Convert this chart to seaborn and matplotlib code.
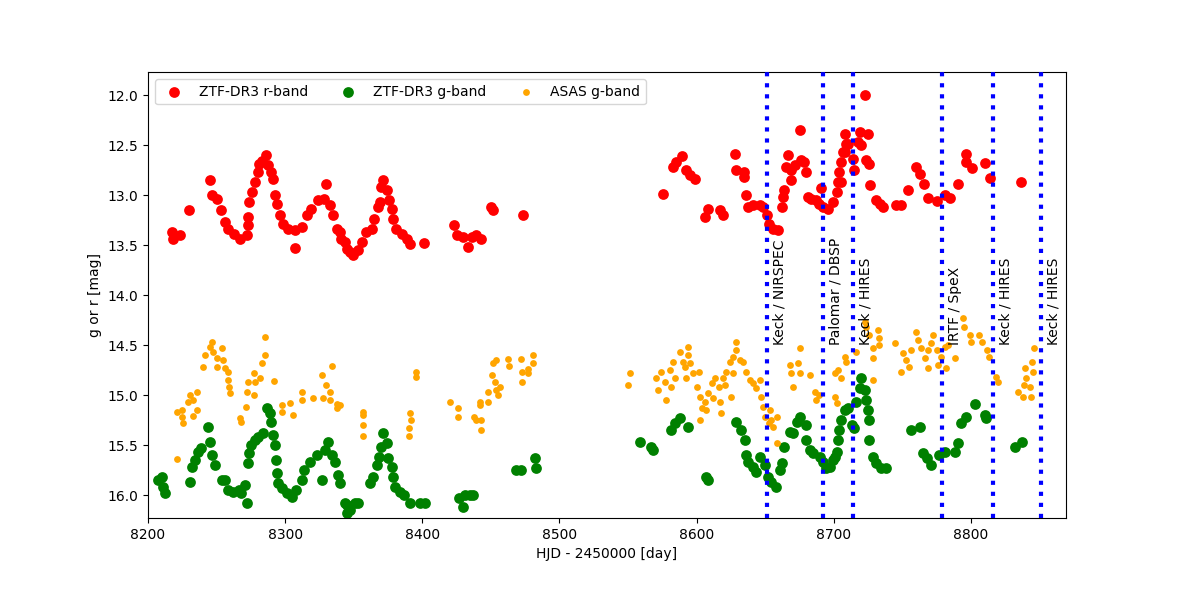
import numpy as np
import pandas as pd
import matplotlib
matplotlib.use('Agg')
import matplotlib.pyplot as plt
import seaborn as sns

# ZTF-DR3 r-band
r_hjd = [8217.3, 8223.3, 8218.4, 8230, 8245, 8247, 8250, 8253, 8256, 8258.5, 8263, 8267,
         8272, 8272.6, 8272.6, 8274, 8275.5, 8278, 8280.4, 8281, 8283, 8286, 8287.7, 8290,
         8291.4, 8292.6, 8293.8, 8296, 8298.6, 8302, 8307, 8307, 8312, 8315.7, 8319, 8324,
         8328, 8330, 8332.6, 8335, 8337.5, 8340, 8341, 8343.6, 8344.8, 8347, 8349.6, 8353,
         8355.7, 8359, 8363, 8365, 8368, 8369, 8370, 8371.5, 8374, 8376, 8377.6, 8378.7,
         8381, 8385, 8388.5, 8391, 8401, 8423, 8425, 8430, 8433.5, 8436, 8439.5, 8443,
         8450.4, 8451.6, 8473.5,
         8575.6, 8583, 8585, 8589, 8592.6, 8595, 8598.7, 8606, 8608, 8617, 8619, 8628,
         8628.6, 8634.6, 8634.6, 8636, 8637.6, 8641, 8646, 8648.5, 8651, 8653, 8656, 8659,
         8662, 8663, 8664, 8666.7, 8665.5, 8669, 8669, 8671.5, 8675, 8676, 8678.6, 8680,
         8681, 8683.6, 8687, 8689, 8691, 8692, 8695.6, 8699.5, 8702, 8703, 8704, 8705.5,
         8708, 8708, 8710.4, 8707, 8709, 8705.5, 8714, 8715, 8717.7, 8719, 8720, 8722.6,
         8725, 8723.8, 8725.7, 8726.7, 8731, 8733.5, 8736, 8745.6, 8749, 8754, 8760,
         8762.6, 8766, 8769, 8775, 8781, 8784.6, 8790.6, 8796.7, 8796.7, 8801, 8810.5,
         8813.7, 8836.8]
r_mag = [13.37, 13.40, 13.44, 13.15, 12.85, 13.00, 13.04, 13.15, 13.27, 13.34, 13.39, 13.44,
         13.40, 13.30, 13.22, 13.07, 12.97, 12.87, 12.77, 12.69, 12.66, 12.60, 12.70, 12.77,
         12.84, 13.00, 13.09, 13.20, 13.29, 13.34, 13.35, 13.53, 13.32, 13.20, 13.14, 13.05,
         13.04, 12.89, 13.10, 13.20, 13.34, 13.37, 13.44, 13.47, 13.54, 13.57, 13.60, 13.55,
         13.47, 13.37, 13.34, 13.24, 13.12, 13.07, 12.92, 12.85, 12.95, 13.05, 13.14, 13.24,
         13.34, 13.39, 13.44, 13.49, 13.48, 13.30, 13.40, 13.42, 13.52, 13.42, 13.40, 13.44,
         13.12, 13.15, 13.20,
         12.99, 12.72, 12.67, 12.61, 12.75, 12.80, 12.84, 13.22, 13.14, 13.15, 13.20, 12.59,
         12.75, 12.77, 12.82, 13.00, 13.12, 13.10, 13.10, 13.12, 13.20, 13.29, 13.34, 13.35,
         13.12, 13.02, 12.95, 12.60, 12.72, 12.75, 12.85, 12.70, 12.35, 12.65, 12.67, 12.77,
         13.02, 13.04, 13.05, 13.09, 12.93, 13.12, 13.14, 13.07, 12.97, 12.87, 12.77, 12.67,
         12.57, 12.39, 12.49, 12.57, 12.49, 12.87, 12.64, 12.75, 12.47, 12.37, 12.50, 12.00,
         12.39, 12.65, 12.69, 12.90, 13.05, 13.09, 13.12, 13.10, 13.10, 12.95, 12.72,
         12.79, 12.89, 13.03, 13.06, 13.00, 13.03, 12.89, 12.59, 12.67, 12.73, 12.68,
         12.83, 12.87]

# ZTF-DR3 g-band
g_hjd = [8207.5, 8210, 8211, 8212.4, 8230.6, 8231.9, 8234, 8236.6, 8239, 8244, 8245, 8246.5,
         8249, 8254, 8256, 8258.5, 8262, 8266, 8268, 8271, 8272, 8273, 8274, 8275, 8278,
         8280, 8284, 8286.5, 8289, 8290, 8291, 8292.6, 8293, 8293.8, 8295, 8297.5, 8301,
         8304.7, 8308, 8312, 8314, 8318, 8323, 8326.5, 8329, 8331, 8334, 8336, 8338.7, 8340,
         8343.6, 8345, 8345, 8347, 8351, 8353, 8362, 8364, 8366.7, 8368.6, 8370, 8371.5,
         8374, 8375, 8377.6, 8378.8, 8380, 8383.7, 8387, 8391, 8398, 8402, 8427, 8431, 8435,
         8437, 8430, 8468.6, 8472, 8482, 8483,
         8558.6, 8567, 8568.3, 8581.6, 8584, 8587.8, 8594, 8607, 8608, 8629, 8632.6, 8635,
         8636, 8637.6, 8641, 8643.6, 8646, 8650, 8652, 8654.5, 8658, 8660.6, 8662, 8664,
         8668, 8670, 8673, 8675, 8680, 8680, 8682.5, 8685, 8690, 8692, 8694.6, 8697, 8699.5,
         8702, 8703, 8704, 8700.7, 8705.6, 8708, 8710, 8713, 8715, 8716.4, 8719, 8720,
         8722.6, 8723.8, 8725, 8725.7, 8726, 8728.6, 8731, 8734.6, 8738, 8756.5, 8762.6,
         8765, 8767.6, 8771, 8777, 8781, 8788, 8790.7, 8793, 8796.7, 8803, 8810, 8811, 8832,
         8837]
g_mag = [15.85, 15.82, 15.92, 15.98, 15.87, 15.72, 15.65, 15.57, 15.53, 15.32, 15.47, 15.60,
         15.70, 15.85, 15.85, 15.95, 15.97, 15.95, 15.98, 15.90, 16.08, 15.68, 15.58, 15.50,
         15.45, 15.42, 15.38, 15.13, 15.18, 15.27, 15.40, 15.50, 15.65, 15.78, 15.88, 15.93,
         15.98, 16.02, 15.95, 15.85, 15.75, 15.67, 15.60, 15.85, 15.55, 15.47, 15.60, 15.67,
         15.80, 15.88, 16.08, 16.18, 16.10, 16.15, 16.08, 16.08, 15.88, 15.82, 15.70, 15.62,
         15.52, 15.38, 15.48, 15.63, 15.72, 15.82, 15.92, 15.97, 16.00, 16.08, 16.08, 16.08,
         16.03, 16.00, 16.00, 16.00, 16.12, 15.75, 15.75, 15.63, 15.73,
         15.47, 15.52, 15.55, 15.35, 15.28, 15.23, 15.32, 15.82, 15.85, 15.27, 15.35, 15.45,
         15.60, 15.67, 15.72, 15.77, 15.62, 15.70, 15.82, 15.87, 15.92, 15.75, 15.68, 15.52,
         15.37, 15.38, 15.27, 15.22, 15.30, 15.45, 15.55, 15.58, 15.62, 15.67, 15.73, 15.72,
         15.65, 15.57, 15.45, 15.35, 15.62, 15.25, 15.15, 15.13, 15.30, 15.33, 15.07, 14.93,
         14.83, 14.95, 15.05, 15.15, 15.25, 15.45, 15.62, 15.68, 15.73, 15.73, 15.35, 15.32,
         15.58, 15.63, 15.70, 15.60, 15.57, 15.57, 15.48, 15.28, 15.22, 15.09, 15.20, 15.23,
         15.52, 15.47]

# ASAS g-band
a_hjd = [8221, 8220.9, 8224.5, 8224.5, 8225.7, 8229.3, 8230.6, 8233, 8235.4, 8235.4, 8232.5,
         8240.3, 8241.5, 8245, 8246.4, 8247.6, 8250, 8250, 8253.7, 8255, 8256, 8258.5,
         8258.5, 8259, 8259.8, 8267, 8267.5, 8271.4, 8272, 8273, 8277, 8277, 8278, 8282,
         8283, 8285.3, 8285.3, 8292, 8298, 8298, 8303.5, 8305.5, 8312, 8312, 8320.4, 8326.6,
         8327.8, 8330, 8332.6, 8334, 8332.6, 8338, 8338, 8340, 8356.5, 8357, 8357, 8356.5,
         8391, 8391.6, 8390.6, 8390.6, 8395.5, 8395.5, 8420, 8426, 8426, 8437.6, 8439.5,
         8443, 8443, 8442, 8442, 8448, 8448, 8451, 8452.9, 8454, 8455, 8456.6, 8451.6,
         8453.6, 8462.6, 8463.3, 8472, 8473, 8473, 8477, 8477, 8480.4, 8480.4,
         8551.3, 8550, 8570.7, 8572, 8574, 8577, 8578, 8580.5, 8581.6, 8583, 8584, 8587.8,
         8590, 8591.4, 8592.6, 8594, 8594, 8595.5, 8597.7, 8600, 8601.4, 8602.6, 8603.6,
         8602.6, 8606, 8607, 8608.4, 8611, 8612, 8613.7, 8616, 8617, 8618, 8619.5, 8620.7,
         8621.7, 8624.2, 8625.4, 8626.7, 8626.7, 8628.6, 8629, 8631.7, 8634, 8636.3, 8639,
         8641.4, 8643.6, 8646, 8647, 8648.6, 8649.8, 8652.4, 8653.6, 8654.5, 8656, 8658.5,
         8658.5, 8668, 8669, 8670, 8674, 8675, 8675, 8682.5, 8686, 8687, 8689.5,
         8700.7, 8703, 8705.6, 8700.7, 8702, 8708, 8709, 8716.4, 8722.6, 8723.8, 8726,
         8728.6, 8728.6, 8732.3, 8733, 8733, 8728.6, 8744.4, 8749, 8750.3, 8752.7, 8755,
         8756.6, 8760.2, 8761.4, 8763.8, 8766.3, 8768.7, 8768.7, 8771, 8772.4, 8775, 8776,
         8778.5, 8781, 8782, 8783.3, 8788, 8794, 8794.6, 8799, 8800, 8806, 8808, 8812, 8813,
         8818.4, 8819.5, 8834, 8838, 8839, 8840, 8839.6, 8842.8, 8844, 8844.7, 8845.6, 8845]
a_mag = [15.64, 15.17, 15.15, 15.22, 15.28, 15.07, 15.00, 15.05, 14.97, 15.15, 15.21,
         14.72, 14.60, 14.52, 14.47, 14.57, 14.63, 14.72, 14.53, 14.65, 14.73, 14.77,
         14.85, 14.92, 14.98, 15.23, 15.27, 15.12, 14.97, 14.87, 15.00, 14.78, 14.87, 14.83,
         14.68, 14.60, 14.42, 14.86, 15.10, 15.17, 15.08, 15.20, 14.97, 15.05, 15.03, 14.80,
         15.03, 14.90, 14.97, 14.71, 15.05, 15.09, 15.13, 15.10, 15.17, 15.20, 15.30, 15.41,
         15.18, 15.25, 15.33, 15.41, 14.77, 14.82, 15.07, 15.13, 15.22, 15.22, 15.25,
         15.25, 15.35, 15.07, 15.10, 14.97, 15.07, 14.80, 14.87, 14.95, 15.00, 14.92, 14.68,
         14.65, 14.64, 14.71, 14.64, 14.77, 14.87, 14.74, 14.78, 14.60, 14.68,
         14.78, 14.90, 14.83, 14.95, 14.77, 14.87, 15.05, 14.75, 14.92, 14.67, 14.83, 14.57,
         14.67, 14.72, 14.83, 14.52, 14.60, 14.68, 14.78, 14.92, 14.77, 15.02, 15.13,
         15.25, 15.07, 15.15, 14.98, 14.88, 15.03, 14.83, 14.92, 15.07, 15.18, 14.83, 14.90,
         14.77, 14.67, 15.02, 14.62, 14.78, 14.47, 14.55, 14.65, 14.67, 14.77, 14.85,
         14.88, 14.93, 14.85, 15.02, 15.12, 15.22, 15.28, 15.15, 15.25, 15.32, 15.22,
         15.48, 14.70, 14.78, 14.92, 14.68, 14.53, 14.78, 14.80, 14.97, 15.05, 15.00,
         14.78, 14.75, 14.83, 15.02, 15.08, 14.62, 14.67, 14.57, 14.27, 14.32, 14.40,
         14.53, 14.63, 14.35, 14.43, 14.50, 14.85, 14.48, 14.77, 14.58, 14.65, 14.72,
         14.55, 14.37, 14.45, 14.53, 14.63, 14.73, 14.55, 14.48, 14.40, 14.55, 14.70,
         14.62, 14.52, 14.73, 14.50, 14.63, 14.23, 14.32, 14.40, 14.47, 14.40, 14.47, 14.55, 14.62,
         14.82, 14.87, 14.97, 15.02, 14.90, 14.83, 14.73, 14.92, 15.02, 14.67, 14.53, 14.77]

# observation epochs
obs_hjd = [8651, 8692, 8714, 8779, 8816, 8851]
obs_label = ['Keck / NIRSPEC', 'Palomar / DBSP', 'Keck / HIRES', 'IRTF / SpeX',
             'Keck / HIRES', 'Keck / HIRES']

df_r = pd.DataFrame({'hjd': r_hjd, 'mag': r_mag})
df_g = pd.DataFrame({'hjd': g_hjd, 'mag': g_mag})
df_a = pd.DataFrame({'hjd': a_hjd, 'mag': a_mag})

fig, ax = plt.subplots(figsize=(11.84, 5.92), dpi=100)
fig.subplots_adjust(left=0.125, right=0.9, top=0.878, bottom=0.125)

sns.scatterplot(data=df_r, x='hjd', y='mag', color='red', s=60, linewidth=0,
                label='ZTF-DR3 r-band', ax=ax)
sns.scatterplot(data=df_g, x='hjd', y='mag', color='green', s=60, linewidth=0,
                label='ZTF-DR3 g-band', ax=ax)
sns.scatterplot(data=df_a, x='hjd', y='mag', color='orange', s=24, linewidth=0,
                label='ASAS g-band', ax=ax)

# lines go over the points
for t, lab in zip(obs_hjd, obs_label):
    ax.axvline(t, color='blue', linestyle=':', linewidth=3, zorder=5)
    ax.text(t + 4, 14.5, lab, rotation=90, va='bottom', ha='left', fontsize=10)

ax.set_xlim(8200, 8869)
ax.set_ylim(16.23, 11.77)
ax.set_xlabel('HJD - 2450000 [day]')
ax.set_ylabel('g or r [mag]')
ax.legend(loc='upper left', ncol=3, fontsize=10, handletextpad=0.75, columnspacing=1.9)

fig.savefig('out.png', dpi=100)
